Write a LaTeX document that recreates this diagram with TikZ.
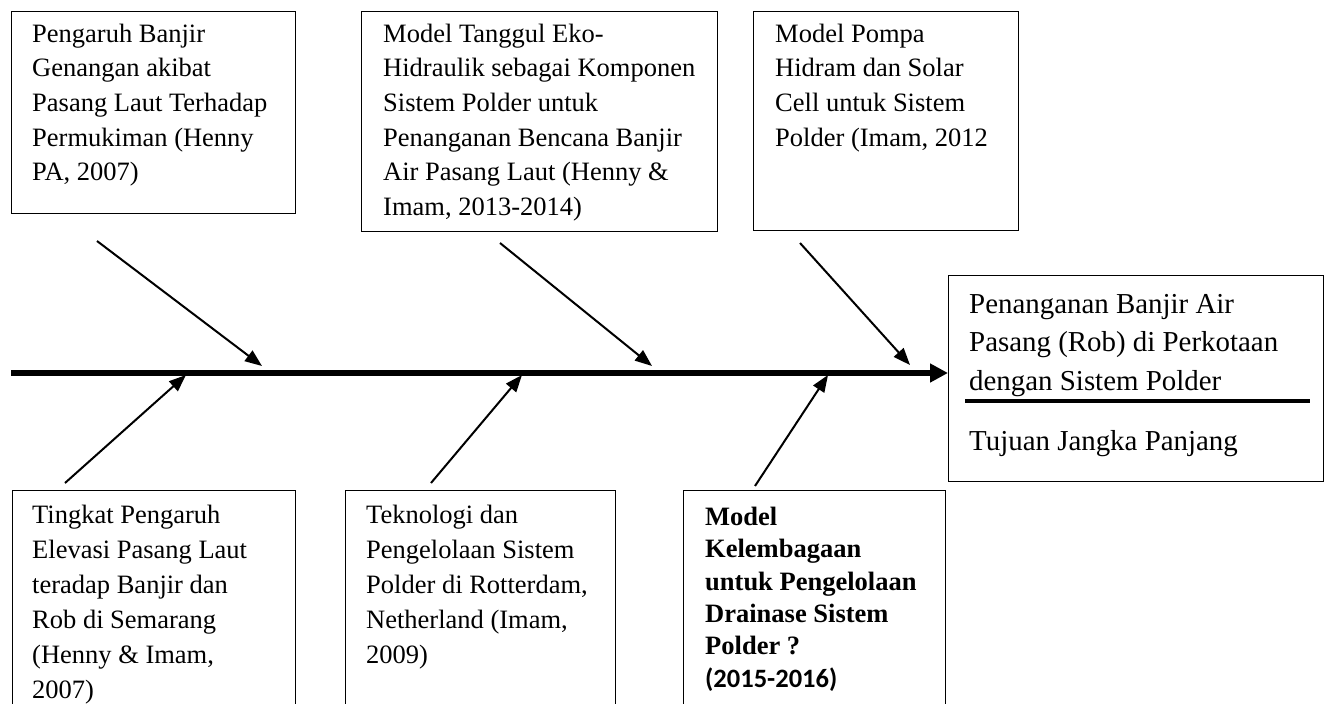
\documentclass[tikz,border=0pt]{standalone}
\usepackage{fontspec}
\setmainfont{Liberation Serif}
\newfontfamily\yearfont{Carlito}
\usetikzlibrary{arrows.meta}

\begin{document}
\begin{tikzpicture}[x=1pt,y=-1pt,
  box/.style={draw, line width=1.3pt, inner sep=0pt, anchor=north west},
  uptxt/.style={anchor=north west, inner sep=0pt, align=left,
              font=\fontsize{26.5}{34.6}\selectfont},
  lowtxt/.style={anchor=north west, inner sep=0pt, align=left,
              font=\fontsize{26.5}{35}\selectfont},
  goaltxt/.style={anchor=north west, inner sep=0pt, align=left,
              font=\fontsize{28.9}{38.5}\selectfont},
  boldtxt/.style={anchor=north west, inner sep=0pt, align=left,
              font=\fontsize{26.5}{32.4}\selectfont\bfseries},
  bone/.style={line width=2pt, -{Triangle[length=17pt,width=13pt]}},
  spine/.style={line width=6pt, -{Triangle[length=18pt,width=18pt]}}]

\useasboundingbox (0,0) rectangle (1328,704);
\clip (0,0) rectangle (1328,704);

% strut that fixes the first baseline 22pt below a text node's top
\newcommand{\firstline}{\rule{0pt}{22pt}}

% upper boxes
\node[box, minimum width=284pt, minimum height=202pt] (b1) at (11,11) {};
\node[box, minimum width=356pt, minimum height=220pt] (b2) at (361,11) {};
\node[box, minimum width=265pt, minimum height=219pt] (b3) at (753,11) {};

\node[uptxt] (t1) at (32,20) {\firstline Pengaruh Banjir\\Genangan akibat\\Pasang Laut Terhadap\\Permukiman (Henny\\PA, 2007)};
\node[uptxt] (t2) at (383,20) {\firstline Model Tanggul Eko-\\Hidraulik sebagai Komponen\\Sistem Polder untuk\\Penanganan Bencana Banjir\\Air Pasang Laut (Henny \&\\Imam, 2013-2014)};
\node[uptxt] (t3) at (775,20) {\firstline Model Pompa\\Hidram dan Solar\\Cell untuk Sistem\\Polder (Imam, 2012};

% lower boxes, running past the bottom edge
\node[box, minimum width=283pt, minimum height=260pt] (b4) at (12,490) {};
\node[box, minimum width=270pt, minimum height=260pt] (b5) at (345,490) {};
\node[box, minimum width=262pt, minimum height=260pt] (b6) at (683,490) {};

\node[lowtxt] (t4) at (32,501) {\firstline Tingkat Pengaruh\\Elevasi Pasang Laut\\teradap Banjir dan\\Rob di Semarang\\(Henny \& Imam,\\2007)};
\node[lowtxt] (t5) at (366,501) {\firstline Teknologi dan\\Pengelolaan Sistem\\Polder di Rotterdam,\\Netherland (Imam,\\2009)};
\node[boldtxt] (t6) at (705,503) {\firstline Model\\Kelembagaan\\untuk Pengelolaan\\Drainase Sistem\\Polder ?\\{\yearfont\bfseries (2015-2016)}};

% goal box
\node[box, minimum width=375pt, minimum height=206pt] (goal) at (948,275) {};
\node[goaltxt] (g1) at (969,291) {\firstline Penanganan Banjir Air\\Pasang (Rob) di Perkotaan\\dengan Sistem Polder};
\node[goaltxt] (g2) at (969,428) {\firstline Tujuan Jangka Panjang};
\coordinate (dl) at (965,401);
\coordinate (dr) at (1310,401);
\draw[line width=4.5pt] (dl) -- (dr);

% spine
\coordinate (tail) at (11,373);
\draw[spine] (tail) -- (tail -| goal.west);

% bones
\coordinate (u1s) at (97,241);  \coordinate (u1e) at (262,366);
\coordinate (u2s) at (500,243); \coordinate (u2e) at (652,366);
\coordinate (u3s) at (800,243); \coordinate (u3e) at (910,365);
\coordinate (l1s) at (65,483);  \coordinate (l1e) at (186,375);
\coordinate (l2s) at (431,483); \coordinate (l2e) at (522,375);
\coordinate (l3s) at (755,486); \coordinate (l3e) at (828,375);

\draw[bone] (u1s) -- (u1e);
\draw[bone] (u2s) -- (u2e);
\draw[bone] (u3s) -- (u3e);
\draw[bone] (l1s) -- (l1e);
\draw[bone] (l2s) -- (l2e);
\draw[bone] (l3s) -- (l3e);
\end{tikzpicture}
\end{document}
